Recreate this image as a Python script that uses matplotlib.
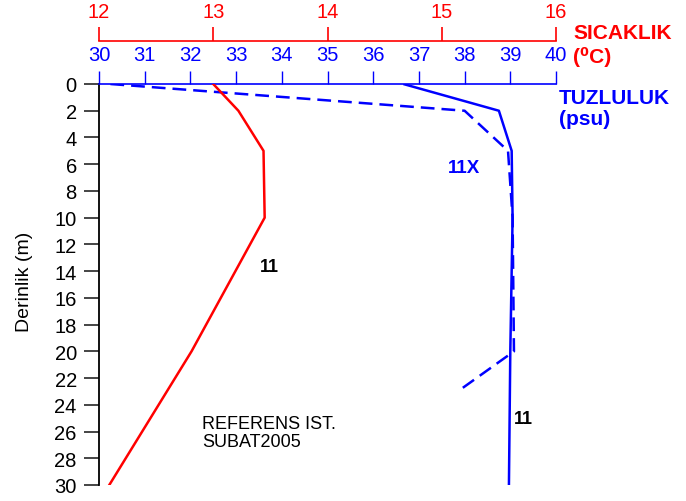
import numpy as np
import matplotlib
matplotlib.use("Agg")
import matplotlib.pyplot as plt

plt.rcParams['font.family'] = ['Liberation Sans', 'DejaVu Sans']

# station 11: temperature (degC) and salinity (psu) by depth (m)
depth_t11 = [0, 2, 5, 10, 20, 30]
temp_11 = [13.0, 13.22, 13.44, 13.45, 12.81, 12.09]

depth_s11 = [0, 2, 5, 10, 20, 30]
sal_11 = [36.66, 38.75, 39.03, 39.05, 39.0, 38.97]

# station 11X salinity
depth_s11x = [0, 2, 5, 10, 20, 23]
sal_11x = [30.25, 38.0, 38.95, 39.05, 39.08, 37.85]

depth_ticks = list(range(0, 31, 2))
sal_ticks = list(range(30, 41))
temp_ticks = [12, 13, 14, 15, 16]

RED = '#ff0000'
BLUE = '#0000ff'
W, H = 686, 502

fig = plt.figure(figsize=(W / 100, H / 100), dpi=100)
fig.subplots_adjust(left=99 / W, right=556 / W, top=1 - 85 / H, bottom=1 - 486 / H)
ax = fig.add_subplot(111)

# temperature axis (red), offset above the salinity axis
ax2 = ax.twiny()
ax2.plot(temp_11, depth_t11, color=RED, lw=1.8)
ax2.set_xlim(12, 16)
ax2.set_ylim(30, 0)
ax2.set_xticks(temp_ticks)
ax2.spines['top'].set_position(('outward', 43 * 0.72))
ax2.spines['top'].set_color(RED)
ax2.spines['top'].set_linewidth(1.2)
for s in ('right', 'bottom', 'left'):
    ax2.spines[s].set_visible(False)
ax2.tick_params(axis='x', colors=RED, direction='out', length=10, width=1.2,
                pad=4.5, labelsize=14.5)

# salinity axis (blue, top)
ax.plot(sal_11, depth_s11, color=BLUE, lw=1.8, solid_capstyle='butt')
ax.plot(sal_11x, depth_s11x, color=BLUE, lw=1.8, ls=(0, (5.5, 2.8)))
ax.set_xlim(30, 40)
ax.set_ylim(30, 0)
ax.xaxis.tick_top()
ax.set_xticks(sal_ticks)
ax.tick_params(axis='x', colors=BLUE, direction='out', length=9.5, width=1.0,
               pad=5, labelsize=14.5)
ax.set_yticks(depth_ticks)
ax.tick_params(axis='y', colors='#444444', labelcolor='black', direction='out',
               length=11, width=1.4, pad=5, labelsize=14.5)
for s in ('right', 'bottom'):
    ax.spines[s].set_visible(False)
ax.spines['top'].set_color(BLUE)
ax.spines['top'].set_linewidth(1.2)
ax.spines['left'].set_color('black')
ax.spines['left'].set_linewidth(1.3)
ax.set_ylabel('Derinlik (m)', fontsize=14)
ax.yaxis.set_label_coords(-0.144, 0.509)


def ftext(x, y, s, **kw):
    fig.text(x / W, 1 - y / H, s, va='baseline', ha='left', **kw)


ftext(573, 39, 'SICAKLIK', color=RED, fontsize=15, fontweight='bold')
ftext(573, 63, '(\u2070C)', color=RED, fontsize=15, fontweight='bold')
ftext(559, 104, 'TUZLULUK', color=BLUE, fontsize=15, fontweight='bold')
ftext(559, 125, '(psu)', color=BLUE, fontsize=15, fontweight='bold')
ftext(448, 173, '11X', color=BLUE, fontsize=13.5, fontweight='bold')
ftext(260, 272, '11', color='black', fontsize=13, fontweight='bold')
ftext(514, 424, '11', color='black', fontsize=13, fontweight='bold')
ftext(202, 429, 'REFERENS IST.', color='black', fontsize=13)
ftext(202, 447, 'SUBAT2005', color='black', fontsize=13)

fig.savefig('out.png', dpi=100)
